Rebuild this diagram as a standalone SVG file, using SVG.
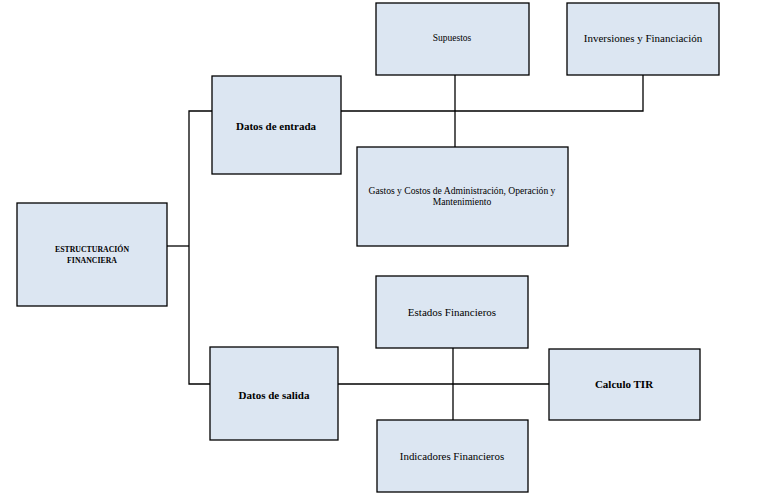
<svg xmlns="http://www.w3.org/2000/svg" width="770" height="501" viewBox="0 0 770 501">
<style>
.box{fill:#dce6f2;stroke:#000;stroke-width:1.3}
.ln{fill:none;stroke:#000;stroke-width:1.3}
text{font-family:'Liberation Serif','Times New Roman',serif;fill:#000;text-anchor:middle}
.b{font-weight:bold}
</style>
<rect width="770" height="501" fill="#fff"/>
<g id="connectors">
<polyline class="ln" points="167,246 189,246"/>
<polyline class="ln" points="212,111 189,111 189,384 210,384"/>
<polyline class="ln" points="341,111 643,111 643,75"/>
<polyline class="ln" points="455,75 455,147"/>
<polyline class="ln" points="338,384 549,384"/>
<polyline class="ln" points="453,348 453,420"/>
</g>
<g id="estructuracion">
<rect class="box" x="17" y="203" width="150" height="103"/>
<text class="b" x="92" y="252" font-size="7.8">ESTRUCTURACIÓN</text>
<text class="b" x="92" y="263" font-size="7.8">FINANCIERA</text>
</g>
<g id="datos-entrada">
<rect class="box" x="212" y="76" width="129" height="98"/>
<text class="b" x="276" y="130" font-size="11">Datos de entrada</text>
</g>
<g id="supuestos">
<rect class="box" x="376" y="3" width="153" height="72"/>
<text x="452" y="41" font-size="9.5">Supuestos</text>
</g>
<g id="inversiones">
<rect class="box" x="567" y="3" width="152" height="72"/>
<text x="643" y="42" font-size="11">Inversiones y Financiación</text>
</g>
<g id="gastos">
<rect class="box" x="357" y="147" width="211" height="99"/>
<text x="462" y="194" font-size="9.6">Gastos y Costos de Administración, Operación y</text>
<text x="462" y="205" font-size="9.6">Mantenimiento</text>
</g>
<g id="datos-salida">
<rect class="box" x="210" y="347" width="128" height="93"/>
<text class="b" x="274" y="399" font-size="11">Datos de salida</text>
</g>
<g id="estados">
<rect class="box" x="376" y="276" width="152" height="72"/>
<text x="452" y="316" font-size="11">Estados Financieros</text>
</g>
<g id="calculo-tir">
<rect class="box" x="549" y="349" width="151" height="71"/>
<text class="b" x="624" y="388" font-size="11">Calculo TIR</text>
</g>
<g id="indicadores">
<rect class="box" x="377" y="420" width="151" height="72"/>
<text x="452" y="460" font-size="10.9">Indicadores Financieros</text>
</g>
</svg>
